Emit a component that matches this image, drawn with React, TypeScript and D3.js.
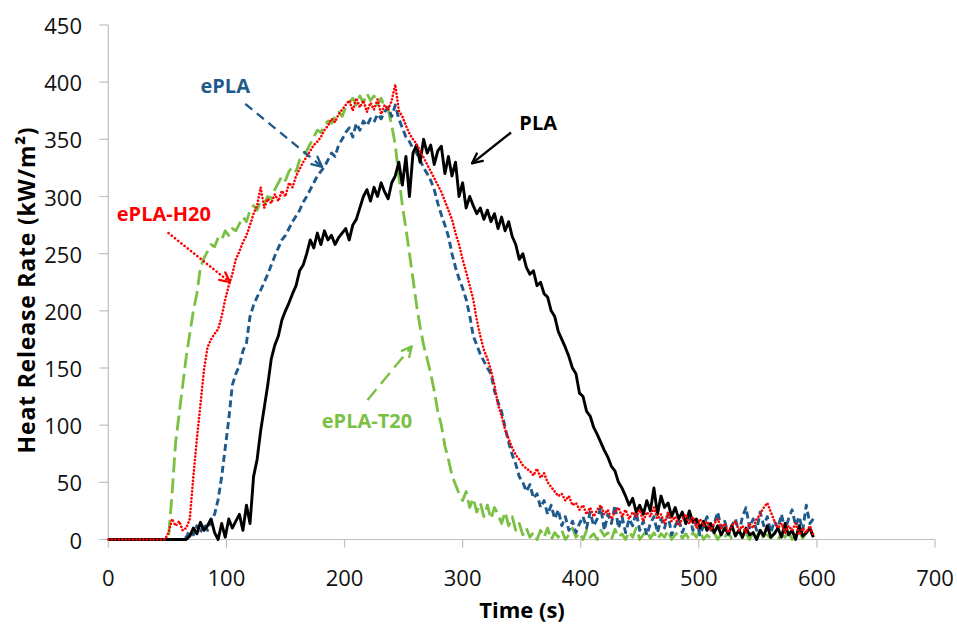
import React from "react";
import * as d3 from "d3";

// Sampling step of the cone calorimeter records (s)
const TIME_STEP = 3;

// Heat release rate (kW/m²), one value every 3 s from 0 to 597 s
const PLA = [
  0, 0, 0, 0, 0, 0, 0, 0, 0, 0,
  0, 0, 0, 0, 0, 0, 0, 0, 0, 0,
  0, 0, 0, 3, 10, 5, 15, 8, 12, 18,
  6, 0, 14, 2, 18, 10, 16, 22, 8, 30,
  14, 55, 70, 95, 115, 135, 158, 170, 178, 192,
  200, 207, 215, 222, 235, 240, 250, 262, 255, 268,
  258, 270, 262, 266, 258, 264, 268, 272, 262, 275,
  280, 290, 300, 306, 296, 308, 300, 312, 304, 298,
  312, 318, 330, 310, 335, 300, 338, 345, 330, 350,
  338, 345, 328, 340, 344, 320, 335, 318, 330, 300,
  312, 290, 300, 292, 285, 290, 280, 288, 278, 285,
  272, 282, 270, 278, 265, 258, 245, 250, 238, 232,
  235, 222, 225, 215, 212, 200, 195, 182, 175, 168,
  160, 150, 145, 128, 125, 112, 108, 98, 92, 85,
  78, 72, 64, 60, 50, 45, 38, 30, 36, 24,
  30, 22, 34, 25, 45, 22, 38, 28, 32, 20,
  28, 18, 24, 14, 25, 15, 18, 10, 16, 8,
  14, 6, 12, 4, 10, 5, 12, 3, 8, 2,
  10, 4, 6, 0, 8, 3, 12, 2, 5, 10,
  2, 14, 4, 8, 0, 12, 3, 6, 10, 2,
];

const EPLA = [
  0, 0, 0, 0, 0, 0, 0, 0, 0, 0,
  0, 0, 0, 0, 0, 0, 0, 0, 0, 0,
  0, 0, 2, 8, 4, 12, 6, 14, 8, 16,
  22, 35, 55, 80, 105, 135, 145, 152, 165, 172,
  195, 205, 212, 218, 225, 232, 240, 248, 255, 262,
  266, 272, 278, 283, 288, 295, 300, 306, 312, 318,
  322, 326, 332, 338, 335, 345, 350, 356, 360, 352,
  364, 358, 366, 362, 368, 365, 372, 368, 374, 378,
  370, 380, 368, 360, 352, 348, 342, 338, 332, 325,
  320, 314, 306, 294, 284, 275, 265, 250, 238, 228,
  220, 210, 196, 178, 170, 162, 156, 150, 145, 130,
  120, 112, 98, 85, 74, 66, 55, 50, 42, 48,
  36, 40, 28, 34, 22, 30, 18, 26, 12, 20,
  8, 16, 6, 14, 20, 10, 24, 12, 18, 28,
  8, 22, 14, 30, 10, 20, 6, 18, 12, 24,
  8, 16, 4, 14, 20, 6, 18, 10, 22, 4,
  12, 18, 6, 14, 22, 8, 16, 4, 12, 20,
  6, 14, 24, 10, 16, 4, 12, 18, 6, 20,
  28, 10, 18, 8, 24, 12, 20, 6, 16, 10,
  22, 8, 18, 26, 12, 20, 8, 30, 14, 18,
];

const EPLA_H20 = [
  0, 0, 0, 0, 0, 0, 0, 0, 0, 0,
  0, 0, 0, 0, 0, 0, 0, 6, 18, 12,
  16, 8, 10, 18, 55, 88, 118, 148, 168, 175,
  180, 184, 195, 210, 222, 232, 245, 252, 260, 266,
  275, 285, 292, 308, 290, 298, 294, 302, 296, 305,
  300, 312, 308, 318, 324, 330, 335, 340, 345, 348,
  352, 358, 362, 368, 365, 372, 376, 380, 384, 375,
  386, 378, 384, 374, 382, 376, 385, 372, 380, 376,
  384, 398, 375, 370, 362, 355, 350, 346, 340, 334,
  328, 322, 316, 310, 304, 296, 288, 280, 268, 258,
  245, 234, 222, 210, 192, 178, 166, 158, 148, 135,
  118, 108, 96, 88, 80, 74, 70, 65, 62, 60,
  56, 62, 54, 58, 50, 46, 42, 38, 40, 34,
  38, 30, 32, 26, 30, 22, 28, 20, 26, 30,
  22, 26, 18, 24, 28, 20, 26, 18, 24, 20,
  26, 16, 24, 20, 28, 18, 22, 14, 24, 16,
  20, 12, 18, 22, 14, 20, 10, 18, 12, 16,
  8, 14, 18, 10, 14, 6, 12, 16, 8, 12,
  6, 14, 10, 18, 22, 28, 32, 24, 16, 10,
  14, 6, 12, 8, 14, 4, 10, 6, 12, 4,
];

const EPLA_T20 = [
  0, 0, 0, 0, 0, 0, 0, 0, 0, 0,
  0, 0, 0, 0, 0, 0, 0, 2, 40, 85,
  110, 135, 160, 180, 200, 215, 238, 246, 252, 258,
  256, 264, 262, 270, 266, 272, 270, 276, 282, 278,
  288, 292, 288, 296, 294, 300, 298, 306, 312, 318,
  314, 322, 326, 322, 332, 336, 340, 346, 352, 358,
  356, 362, 366, 364, 370, 374, 370, 378, 382, 386,
  380, 388, 382, 390, 384, 388, 380, 386, 378, 376,
  362, 345, 318, 292, 272, 250, 228, 205, 186, 170,
  158, 145, 130, 112, 100, 82, 70, 56, 48, 40,
  34, 42, 28, 36, 24, 32, 20, 30, 18, 28,
  22, 14, 24, 12, 20, 8, 14, 4, 10, 2,
  6, 0, 8, 2, 10, 0, 6, 2, 8, 0,
  4, 10, 2, 6, 0, 8, 2, 5, 0, 8,
  3, 6, 0, 9, 2, 5, 0, 7, 2, 10,
  0, 4, 8, 1, 6, 0, 5, 2, 8, 0,
  4, 7, 1, 5, 0, 6, 2, 8, 0, 4,
  1, 6, 0, 5, 2, 7, 0, 4, 8, 1,
  5, 0, 6, 2, 8, 0, 4, 1, 6, 0,
  5, 2, 7, 0, 4, 8, 1, 6, 10, 3,
];

const X_TICKS = [0, 100, 200, 300, 400, 500, 600, 700];
const Y_TICKS = [0, 50, 100, 150, 200, 250, 300, 350, 400, 450];

// Callout labels and arrows, in data units (s, kW/m²)
const LABEL_NAMES = ["ePLA", "PLA", "ePLA-H20", "ePLA-T20"];
const LABEL_POS: [number, number][] = [[99, 397], [364, 365], [47, 285], [219, 104]];
const ARROW_FROM: [number, number][] = [[116, 381], [341, 356], [51, 268], [219.5, 122]];
const ARROW_TO: [number, number][] = [[181, 326], [308, 329], [103, 225], [257, 169]];

const BLUE = "#1f5a8c";
const RED = "#ff0000";
const GREEN = "#7ac143";
const BLACK = "#000000";
const AXIS = "#bfbfbf";
const FONT = "'Open Sans', 'Liberation Sans', sans-serif";

export default function App() {
  const W = 957;
  const H = 625;
  const x = d3.scaleLinear().domain([0, 700]).range([108.3, 935]);
  const y = d3.scaleLinear().domain([0, 450]).range([539.5, 25]);
  const times = PLA.map((_, i) => i * TIME_STEP);

  const line = d3
    .line<number>()
    .x((_, i) => x(times[i]))
    .y((d) => y(d));

  const series = [
    { data: EPLA_T20, color: GREEN, dash: "15,6", width: 2.8, cap: "butt" },
    { data: EPLA, color: BLUE, dash: "7,4", width: 2.9, cap: "butt" },
    { data: PLA, color: BLACK, dash: "none", width: 2.9, cap: "butt" },
    { data: EPLA_H20, color: RED, dash: "0.1,3.4", width: 2.6, cap: "round" },
  ];

  const labelColors = [BLUE, BLACK, RED, GREEN];
  const arrowDash = ["9,6", "none", "0.1,4", "14,7"];
  const arrowCap = ["butt", "butt", "round", "butt"];

  return (
    <svg
      width={W}
      height={H}
      style={{ position: "absolute", left: 0, top: 0, background: "#fff" }}
    >
      {/* axes */}
      <line x1={x(0)} x2={x(0)} y1={y(450)} y2={y(0)} stroke={AXIS} strokeWidth={1.2} />
      <line x1={x(0)} x2={x(700)} y1={y(0)} y2={y(0)} stroke={AXIS} strokeWidth={1.2} />
      {Y_TICKS.map((t) => (
        <g key={"y" + t}>
          <line x1={x(0) - 9} x2={x(0)} y1={y(t)} y2={y(t)} stroke={AXIS} strokeWidth={1.2} />
          <text
            x={82}
            y={y(t)}
            textAnchor="end"
            dominantBaseline="central"
            fontFamily={FONT}
            fontSize={22}
            fill="#111"
          >
            {t}
          </text>
        </g>
      ))}
      {X_TICKS.map((t) => (
        <g key={"x" + t}>
          <line x1={x(t)} x2={x(t)} y1={y(0)} y2={y(0) + 8} stroke={AXIS} strokeWidth={1.2} />
          <text
            x={x(t)}
            y={577}
            textAnchor="middle"
            dominantBaseline="central"
            fontFamily={FONT}
            fontSize={22}
            fill="#111"
          >
            {t}
          </text>
        </g>
      ))}

      {/* series */}
      {series.map((s, k) => (
        <path
          key={k}
          d={line(s.data) || ""}
          fill="none"
          stroke={s.color}
          strokeWidth={s.width}
          strokeDasharray={s.dash}
          strokeLinecap={s.cap as any}
          strokeLinejoin="round"
        />
      ))}

      {/* callouts */}
      {LABEL_NAMES.map((name, k) => {
        const [fx, fy] = [x(ARROW_FROM[k][0]), y(ARROW_FROM[k][1])];
        const [tx, ty] = [x(ARROW_TO[k][0]), y(ARROW_TO[k][1])];
        const ang = Math.atan2(ty - fy, tx - fx);
        const hl = 11;
        const spread = 0.45;
        const h1 = [tx - hl * Math.cos(ang - spread), ty - hl * Math.sin(ang - spread)];
        const h2 = [tx - hl * Math.cos(ang + spread), ty - hl * Math.sin(ang + spread)];
        const c = labelColors[k];
        return (
          <g key={name}>
            <line
              x1={fx}
              y1={fy}
              x2={tx}
              y2={ty}
              stroke={c}
              strokeWidth={k === 2 ? 2.6 : 2.4}
              strokeDasharray={arrowDash[k]}
              strokeLinecap={arrowCap[k] as any}
            />
            <polyline
              points={`${h1[0]},${h1[1]} ${tx},${ty} ${h2[0]},${h2[1]}`}
              fill="none"
              stroke={c}
              strokeWidth={2.3}
              strokeLinecap="round"
              strokeLinejoin="round"
            />
            <text
              x={x(LABEL_POS[k][0])}
              y={y(LABEL_POS[k][1])}
              textAnchor="middle"
              dominantBaseline="central"
              fontFamily={FONT}
              fontWeight={700}
              fontSize={20}
              fill={c}
            >
              {name}
            </text>
          </g>
        );
      })}

      {/* axis titles */}
      <text
        x={522}
        y={609}
        textAnchor="middle"
        dominantBaseline="central"
        fontFamily={FONT}
        fontWeight={700}
        fontSize={22}
        fill="#000"
      >
        Time (s)
      </text>
      <text
        transform={`translate(26,290) rotate(-90)`}
        textAnchor="middle"
        dominantBaseline="central"
        fontFamily={FONT}
        fontWeight={700}
        fontSize={23}
        letterSpacing={0.8}
        fill="#000"
      >
        Heat Release Rate (kW/m²)
      </text>
    </svg>
  );
}
